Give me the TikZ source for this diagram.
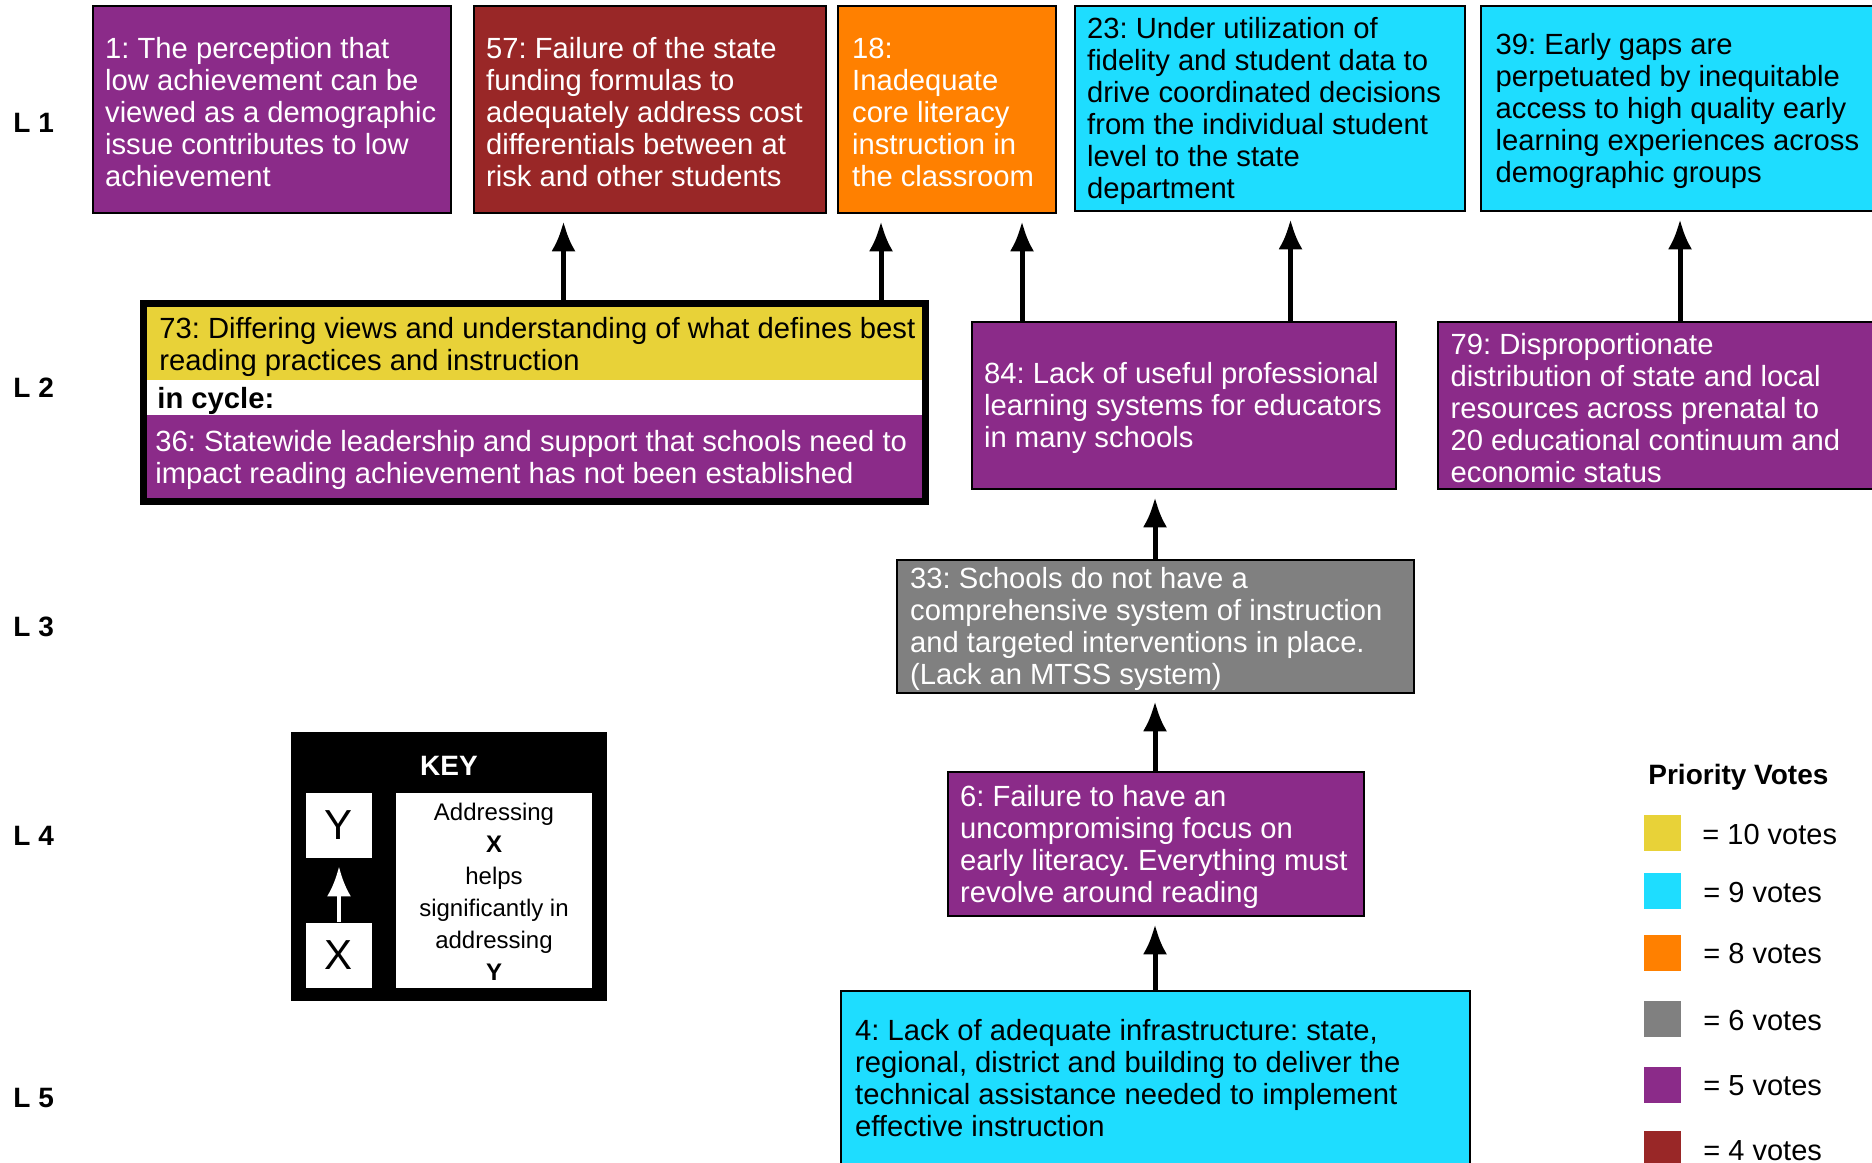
\documentclass[tikz,border=0pt]{standalone}
\usepackage{fontspec}
\setmainfont{Liberation Sans}
\usetikzlibrary{arrows.meta,fit}
\frenchspacing

\definecolor{vpurple}{RGB}{139,43,137}
\definecolor{vred}{RGB}{153,39,39}
\definecolor{vorange}{RGB}{255,128,0}
\definecolor{vcyan}{RGB}{30,221,255}
\definecolor{vyellow}{RGB}{232,210,56}
\definecolor{vgray}{RGB}{128,128,128}

\tikzset{
  box/.style={draw=black, line width=1.25pt, inner sep=0pt},
  band/.style={inner sep=0pt},
  txt/.style={inner sep=0pt, align=left, anchor=west, yshift=-1.25pt, font=\fontsize{14.6}{16}\selectfont},
  wtxt/.style={txt, text=white},
  link/.style={line width=2.5pt, -{Latex[length=15pt,width=12pt]}, shorten >=3.5pt},
  keylink/.style={white, line width=2.2pt, -{Latex[length=15pt,width=12pt]}, shorten >=4pt},
  lvl/.style={inner sep=0pt, anchor=west, font=\bfseries\fontsize{14}{16}\selectfont},
  swatch/.style={inner sep=0pt, minimum width=18.5pt, minimum height=18pt},
  legtxt/.style={inner sep=0pt, anchor=west, font=\fontsize{14.5}{16}\selectfont},
}

\begin{document}
\begin{tikzpicture}[x=0.5pt,y=-0.5pt]
\fill[white] (0,0) rectangle (1872,1162);
\useasboundingbox (0,0) rectangle (1872,1162);

% level labels
\node[lvl] (L1) at (13,123) {L 1};
\node[lvl] (L2) at (13,388) {L 2};
\node[lvl] (L3) at (13,627) {L 3};
\node[lvl] (L4) at (13,836) {L 4};
\node[lvl] (L5) at (13,1098) {L 5};

% level 1
\node[box, fill=vpurple, minimum width=179pt, minimum height=103.5pt] (b1) at (272,109.5) {};
\node[wtxt] (t1) at ([xshift=6.5pt]b1.west) {1: The perception that\\low achievement can be\\viewed as a demographic\\issue contributes to low\\achievement};

\node[box, fill=vred, minimum width=176pt, minimum height=103.5pt] (b57) at (650,109.5) {};
\node[wtxt] (t57) at ([xshift=6.5pt]b57.west) {57: Failure of the state\\funding formulas to\\adequately address cost\\differentials between at\\risk and other students};

\node[box, fill=vorange, minimum width=109pt, minimum height=103.5pt] (b18) at (947,109.5) {};
\node[wtxt] (t18) at ([xshift=7.5pt]b18.west) {18:\\Inadequate\\core literacy\\instruction in\\the classroom};

\node[box, fill=vcyan, minimum width=195pt, minimum height=102.5pt] (b23) at (1270,108.5) {};
\node[txt] (t23) at ([xshift=6.5pt]b23.west) {23: Under utilization of\\fidelity and student data to\\drive coordinated decisions\\from the individual student\\level to the state\\department};

\node[box, fill=vcyan, minimum width=204.5pt, minimum height=102.5pt] (b39) at (1685.5,108.5) {};
\node[txt] (t39) at ([xshift=7.75pt]b39.west) {39: Early gaps are\\perpetuated by inequitable\\access to high quality early\\learning experiences across\\demographic groups};

% level 2: the cycle of 73 and 36
\node[band, fill=vyellow, minimum width=387.5pt, minimum height=36.5pt] (b73) at (534.5,343.5) {};
\node[txt] (t73) at (159,344) {73: Differing views and understanding of what defines best\\reading practices and instruction};
\node[txt, font=\bfseries\fontsize{14.6}{16}\selectfont] (tcyc) at (157,398) {in cycle:};
\node[band, fill=vpurple, minimum width=387.5pt, minimum height=41.5pt] (b36) at (534.5,456.5) {};
\node[wtxt] (t36) at (155,457.5) {36: Statewide leadership and support that schools need to\\impact reading achievement has not been established};
\node[draw=black, line width=3.5pt, inner sep=1.75pt, fit=(b73)(b36)] (cyc) {};

\node[box, fill=vpurple, minimum width=212pt, minimum height=83.5pt] (b84) at (1184,405.5) {};
\node[wtxt] (t84) at ([xshift=6.5pt]b84.west) {84: Lack of useful professional\\learning systems for educators\\in many schools};

\node[box, fill=vpurple, minimum width=226pt, minimum height=83.5pt] (b79) at (1664,405.5) {};
\node[wtxt] (t79) at ([xshift=6.75pt]b79.west) {79: Disproportionate\\distribution of state and local\\resources across prenatal to\\20 educational continuum and\\economic status};

% levels 3 to 5
\node[box, fill=vgray, minimum width=258.5pt, minimum height=66.5pt] (b33) at (1155.5,626.5) {};
\node[wtxt] (t33) at ([xshift=7pt]b33.west) {33: Schools do not have a\\comprehensive system of instruction\\and targeted interventions in place.\\(Lack an MTSS system)};

\node[box, fill=vpurple, minimum width=208pt, minimum height=72pt] (b6) at (1156,844) {};
\node[wtxt] (t6) at ([xshift=6.5pt]b6.west) {6: Failure to have an\\uncompromising focus on\\early literacy. Everything must\\revolve around reading};

\node[box, fill=vcyan, minimum width=314.5pt, minimum height=89.5pt] (b4) at (1155.5,1080.5) {};
\node[txt, yshift=2.5pt] (t4) at ([xshift=7.5pt]b4.west) {4: Lack of adequate infrastructure: state,\\regional, district and building to deliver the\\technical assistance needed to implement\\effective instruction};

% arrow columns
\coordinate (xa) at (563.5,0);
\coordinate (xb) at (881,0);
\coordinate (xc) at (1022,0);
\coordinate (xd) at (1290.5,0);
\coordinate (xe) at (1680,0);
\coordinate (xf) at (1155,0);

\draw[link] (cyc.north -| xa) -- (b57.south -| xa);
\draw[link] (cyc.north -| xb) -- (b18.south -| xb);
\draw[link] (b84.north -| xc) -- (b18.south -| xc);
\draw[link] (b84.north -| xd) -- (b23.south -| xd);
\draw[link] (b79.north -| xe) -- (b39.south -| xe);
\draw[link] (b33.north -| xf) -- (b84.south -| xf);
\draw[link] (b6.north -| xf) -- (b33.south -| xf);
\draw[link] (b4.north -| xf) -- (b6.south -| xf);

% key
\node[fill=black, inner sep=0pt, minimum width=158pt, minimum height=134.5pt] (key) at (449,866.5) {};
\node[inner sep=0pt, text=white, font=\bfseries\fontsize{14}{16}\selectfont] (keyt) at (449,766) {KEY};
\node[fill=white, inner sep=0pt, minimum width=33pt, minimum height=32.75pt, font=\fontsize{21}{24}\selectfont] (ky) at (339,825.25) {Y};
\node[fill=white, inner sep=0pt, minimum width=33pt, minimum height=32.75pt, font=\fontsize{21}{24}\selectfont] (kx) at (339,955.25) {X};
\node[fill=white, inner sep=0pt, minimum width=98pt, minimum height=97.75pt] (kbox) at (494,890.25) {};
\node[inner sep=0pt, align=center, font=\fontsize{12}{16}\selectfont] (ktxt) at (494,892) {Addressing\\\textbf{X}\\helps\\significantly in\\addressing\\\textbf{Y}};
\draw[keylink] (kx.north) -- (ky.south);

% legend
\node[inner sep=0pt, anchor=west, font=\bfseries\fontsize{14}{16}\selectfont] (legt) at (1648,777) {Priority Votes};
\node[swatch, fill=vyellow] (s10) at (1662.5,833) {};
\node[swatch, fill=vcyan] (s9) at (1662.5,891) {};
\node[swatch, fill=vorange] (s8) at (1662.5,953) {};
\node[swatch, fill=vgray] (s6) at (1662.5,1018.5) {};
\node[swatch, fill=vpurple] (s5) at (1662.5,1085) {};
\node[swatch, fill=vred] (s4) at (1662.5,1149) {};
\node[legtxt] (v10) at (1702,835) {= 10 votes};
\node[legtxt] (v9) at (1703,893) {= 9 votes};
\node[legtxt] (v8) at (1703,953.5) {= 8 votes};
\node[legtxt] (v6) at (1703,1020) {= 6 votes};
\node[legtxt] (v5) at (1703,1086) {= 5 votes};
\node[legtxt] (v4) at (1703,1151) {= 4 votes};
\end{tikzpicture}
\end{document}
